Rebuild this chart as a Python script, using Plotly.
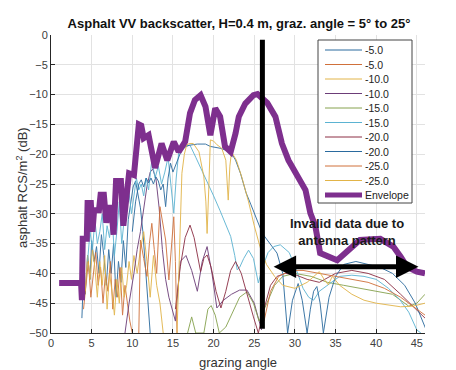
import plotly.graph_objects as go

# ---------------- data ----------------
names = ["-5.0", "-5.0", "-10.0", "-10.0", "-15.0", "-15.0", "-20.0", "-20.0", "-25.0", "-25.0"]
colors = ["#2a6a9e", "#d0703a", "#e2b448", "#6c3d78", "#86a24e", "#5bb3d2", "#8c2e44", "#2a6a9e", "#d0703a", "#e2b448"]
env_color = "#7E2F8E"

s1_x = [3.8, 4.0, 4.2, 4.5, 4.8, 5.0, 5.3, 5.6, 5.9, 6.2, 6.5, 6.8, 7.1, 7.4, 7.7, 8.0, 8.3, 8.6, 8.9, 9.2, 9.5, 9.8, 10.1, 10.4, 10.7, 11.0, 11.3, 11.6, 11.9, 12.2]
s1_y = [-47.5, -40, -43.5, -37, -41, -34.5, -38, -35.5, -40, -33.5, -37, -42, -36, -40, -35, -44, -38, -41.5, -34.5, -39, -31, -28, -25.5, -24.5, -26.5, -29, -33, -39, -45, -50]

s2_x = [4.0, 4.3, 4.6, 4.9, 5.2, 5.5, 5.8, 6.1, 6.4, 6.7, 7.0, 7.3, 7.6, 7.9, 8.2, 8.5, 8.8, 9.1, 9.4, 9.7, 10.0]
s2_y = [-46, -42, -38, -44, -40, -36.5, -42, -39, -45, -40, -43, -38, -46, -41, -44, -39, -47, -42, -45, -48, -50]

s3_x = [4.2, 4.5, 4.8, 5.1, 5.4, 5.7, 6.0, 6.3, 6.6, 6.9, 7.2, 7.5, 7.8, 8.1, 8.4, 8.7, 9.0, 9.3, 9.6, 9.9, 10.2, 10.6, 11.0, 11.4, 11.8, 12.2, 12.6, 13.0, 13.4, 13.8]
s3_y = [-43, -37, -41, -36, -39, -44, -38, -42, -37, -46, -40, -43, -47, -41, -45, -39, -44, -42, -38, -41, -37, -40, -36, -33, -38, -44, -37, -42, -45, -50]

s4_x = [9.1, 9.6, 10.2, 10.6, 11.0, 11.4, 11.8, 12.2, 12.5, 12.9, 13.3, 13.7, 14.1, 14.5, 14.9, 15.3, 15.9, 16.6, 17.3, 18.0, 18.6, 19.2, 19.8, 20.4, 21.2, 22.2, 23.2, 24.1, 25.0, 25.9]
s4_y = [-50, -45, -40, -36, -33, -29, -25.4, -23, -22.5, -24, -29, -36, -41, -44, -46, -48, -38, -37, -39.5, -43, -38, -35.5, -40, -45.8, -44.5, -43.5, -42.8, -42.8, -45, -49.5]

s5_x = [16.8, 17.3, 17.8, 18.3, 18.8, 19.3, 19.7, 20.2, 20.7, 21.5, 22.3, 23.2, 24.1, 24.9, 25.6, 26.5, 27.5, 28.5, 30, 32, 34, 36, 38, 40, 42, 44, 45, 46]
s5_y = [-50, -47.3, -50, -50, -50, -46, -45.4, -47, -50, -49, -46.5, -44, -43.1, -45, -48, -45, -42, -40.5, -40, -40.5, -41.5, -42, -42.5, -43, -43.5, -45.5, -45, -43.5]

s6_x = [4.5, 4.8, 5.1, 5.4, 5.7, 6.0, 6.3, 6.6, 6.9, 7.2, 7.5, 7.8, 8.1, 8.4, 8.7, 9.0, 9.3, 9.6, 9.9, 10.2, 10.5, 10.8, 11.1, 11.4, 11.7, 12.0, 12.4, 12.8, 13.2, 13.6, 14.0, 14.4, 14.8, 15.1, 15.4, 15.7, 16.1, 16.6, 17.1, 17.8, 18.5, 19.2, 20.0, 20.8, 21.5, 22.1, 22.6, 22.9, 23.2, 23.7, 24.3, 24.9, 25.5, 26.0, 26.7, 27.4, 28.2, 29.3, 30.2, 31.0, 31.7, 32.3, 33.0, 34.0, 35.5, 37.0, 38.5, 40.0, 41.5, 42.9, 44.0, 45.0, 45.5]
s6_y = [-38, -33, -36, -31, -35, -33, -30, -36, -32, -34, -30, -37, -33, -28, -35, -31, -29, -26.5, -30, -27, -24, -26, -25, -27, -24, -26, -21, -24, -22, -25, -23, -20.5, -26, -29.9, -24, -19.8, -18.7, -18.6, -18.5, -20.5, -22.5, -24.5, -27, -29.5, -31.8, -33.8, -37, -39.4, -39, -37.5, -36.1, -37.5, -41.6, -39, -36.5, -35.5, -35.2, -36.5, -39.5, -42.5, -44, -44.5, -43, -42, -40.5, -40.3, -40.5, -41, -42.5, -44.4, -46.5, -49.5, -50]

s7_x = [15.3, 15.9, 16.5, 17.1, 17.6, 18.4, 18.8, 19.2, 19.7, 20.3, 20.9, 21.5, 22.1, 22.7, 23.4, 24.1, 24.9, 25.5, 26.2, 27.0, 27.8, 28.8, 30.0, 31.5, 33, 35, 37, 39, 41, 43, 44.5, 46]
s7_y = [-46, -38.9, -34, -31.9, -34, -39.7, -37.5, -36.9, -39, -43, -45.8, -43, -39.5, -38.0, -40, -43.5, -47.3, -50, -46, -42, -40.5, -40, -40.2, -41, -41.5, -40, -39.5, -40, -41, -43.5, -45.5, -47.5]

s8_x = [10.0, 10.4, 10.8, 11.1, 11.4, 11.7, 12.0, 12.3, 12.6, 12.9, 13.2, 13.5, 13.8, 14.1, 14.4, 14.7, 15.0, 15.3, 15.6, 16.0, 16.5, 17.0, 18.0, 19.0, 19.6, 20.8, 22.1, 22.7, 23.3, 24.0, 24.6, 26.0, 26.6, 27.8, 28.5, 29.1, 29.7, 30.4, 30.9, 31.5, 31.9, 32.3, 32.7, 33.1, 33.5, 34.2, 35, 36, 37.5, 39, 40.5, 42, 43.5, 44.8, 45.8, 46.3]
s8_y = [-33, -28, -25, -24.3, -25.5, -24, -24.8, -24, -25, -23.8, -24.5, -26, -25, -28.8, -24, -21.5, -23, -22, -21, -19.5, -18.8, -18.5, -18.3, -18.3, -18.7, -19, -19.6, -21, -23.2, -26.5, -28.5, -33.3, -34.4, -36.6, -40, -50, -44.5, -41.7, -44.5, -50, -46, -43, -42.2, -45, -50, -44, -40.5, -38.5, -38, -38.5, -39, -40, -42, -45, -48.5, -50]

s9_x = [10.8, 11.0, 11.4, 11.8, 12.1, 12.4, 12.7, 13.0, 13.4, 13.7, 14.1, 14.5, 14.8, 15.1, 15.3, 15.5, None, 26.2, 27.0, 28.0, 29.5, 31, 33, 35, 37, 39, 41, 43, 44.5, 46]
s9_y = [-50, -34.4, -37.5, -40.5, -35, -31.6, -36, -40, -28.8, -31, -34.4, -41.1, -35, -30.5, -38, -50, None, -48, -43, -40.5, -39.5, -39.5, -40, -40.5, -41, -41.5, -42.5, -44, -45.5, -47]

s10_x = [15.5, 15.8, 16.1, 16.4, 16.7, 17.1, 17.5, 18.2, 18.8, 19.05, 19.2, 19.4, 19.6, 20.0, 20.4, 21.0, 21.5, 21.8, 22.0, 22.2, 22.8, 23.5, 24.3, 25.0, 25.7, 26.5, 27.5, 28.5, 30, 31.5, 33.0, 33.6, 34.1, 34.6, 35.5, 37, 38.5, 40, 41.5, 43, 44.5, 46]
s10_y = [-50, -36, -23.2, -20, -18.4, -18.2, -18.2, -19.6, -23.8, -28, -33.3, -26, -17.6, -17.8, -18.4, -19, -21, -27.7, -22, -19.6, -21, -24, -28, -32, -35.5, -38.5, -40.5, -42, -42.5, -41.5, -39.7, -41, -41.9, -40.5, -42, -43.5, -44.5, -45, -45.3, -45.6, -45.5, -45]

env_x = [1.0, 3.7, 3.8, 3.9, 4.4, 4.5, 4.9, 5.1, 5.3, 5.9, 6.1, 6.5, 6.8, 7.1, 7.4, 7.7, 8.0, 8.6, 8.9, 9.3, 9.6, 10.2, 10.5, 10.8, 11.1, 11.4, 12.0, 12.8, 13.6, 14.3, 15.1, 15.7, 16.5, 17.1, 17.7, 18.4, 19.0, 19.6, 20.2, 20.8, 21.4, 22.1, 22.7, 23.1, 23.9, 24.9, 25.4, 25.7, 26.6, 27.6, 28.4, 29.2, 30.5, 31.3, 31.9, 32.5, 32.9, 33.1, 35.2, 36.8, 38.0, 40.5, 42.1, 43.0, 43.8, 45.0, 46.0]
env_y = [-41.6, -41.6, -44.5, -34.2, -34.2, -28.2, -28.2, -33, -29.4, -29.4, -26.8, -26.8, -31.5, -29, -29, -33.5, -24.5, -24.5, -32, -26, -23.2, -23.5, -20, -15, -15.2, -17.3, -16.8, -22.3, -18.2, -21, -17.9, -19.6, -17.9, -13.1, -10.9, -10.1, -12.0, -16.8, -12.3, -13.7, -18.7, -19.6, -16.5, -13.7, -11.5, -10.1, -9.9, -10.3, -11.4, -13.7, -18.2, -21, -24.3, -26, -29.9, -32, -35, -36.6, -37.8, -36, -34.4, -34.2, -35.5, -37.2, -38.9, -39.7, -40]

series_x = [s1_x, s2_x, s3_x, s4_x, s5_x, s6_x, s7_x, s8_x, s9_x, s10_x]
series_y = [s1_y, s2_y, s3_y, s4_y, s5_y, s6_y, s7_y, s8_y, s9_y, s10_y]

x_ticks = [0, 5, 10, 15, 20, 25, 30, 35, 40, 45]
y_ticks = [0, -5, -10, -15, -20, -25, -30, -35, -40, -45, -50]

cutoff_angle = 26.0
arrow_y = -38.9
arrow_x0, arrow_x1 = 27.2, 45.2

# ---------------- figure ----------------
# the page body has an 8px margin, so the figure is placed at (8, 8) in the window
OFF = 8
W, H = 456 - OFF, 370 - OFF
ML, MR, MT, MB = 51 - OFF, 31, 35 - OFF, 37
PW, PH = W - ML - MR, H - MT - MB

def px2paper_x(px):          # window pixel -> paper coordinate
    return (px - OFF - ML) / PW
def px2paper_y(py):
    return (H - MB - (py - OFF)) / PH

fig = go.Figure()
for xs, ys, nm, c in zip(series_x, series_y, names, colors):
    fig.add_trace(go.Scatter(x=xs, y=ys, name=nm, mode="lines",
                             line=dict(color=c, width=1), opacity=0.9,
                             connectgaps=False, showlegend=False))
fig.add_trace(go.Scatter(x=env_x, y=env_y, name="Envelope", mode="lines",
                         line=dict(color=env_color, width=6), showlegend=False))

font_main = "Arial, Liberation Sans, sans-serif"

# vertical cutoff line
fig.add_shape(type="line", xref="x", yref="y", x0=cutoff_angle, x1=cutoff_angle,
              y0=-0.8, y1=-49.3, line=dict(color="black", width=5))

# double arrow
fig.add_annotation(x=arrow_x1, y=arrow_y, ax=arrow_x0, ay=arrow_y, xref="x", yref="y",
                   axref="x", ayref="y", text="", showarrow=True,
                   arrowhead=2, startarrowhead=2, arrowside="end+start",
                   arrowsize=0.9, startarrowsize=0.9, arrowwidth=5, arrowcolor="black")

fig.add_annotation(x=36.4, y=-33.0, xref="x", yref="y",
                   text="<b>Invalid data due to<br>antenna pattern</b>", showarrow=False,
                   font=dict(family=font_main, size=13, color="#1a1a1a"), align="center")

# manual legend (MATLAB style compact box)
L, R, T, B = 318, 412, 40, 203
fig.add_shape(type="rect", xref="paper", yref="paper",
              x0=px2paper_x(L), x1=px2paper_x(R), y0=px2paper_y(B), y1=px2paper_y(T),
              line=dict(color="#444444", width=1), fillcolor="white", layer="above")
leg_names = names + ["Envelope"]
leg_colors = colors + [env_color]
for i, (nm, c) in enumerate(zip(leg_names, leg_colors)):
    py = 50 + 14.5 * i
    w = 5 if nm == "Envelope" else 1
    fig.add_shape(type="line", xref="paper", yref="paper",
                  x0=px2paper_x(325), x1=px2paper_x(362), y0=px2paper_y(py), y1=px2paper_y(py),
                  line=dict(color=c, width=w), layer="above")
    fig.add_annotation(x=px2paper_x(363), y=px2paper_y(py), xref="paper", yref="paper",
                       text=nm, showarrow=False, xanchor="left", yanchor="middle",
                       font=dict(family=font_main, size=10.5, color="#222222"))

# axis titles
fig.add_annotation(x=px2paper_x(238), y=px2paper_y(362), xref="paper", yref="paper",
                   text="grazing angle", showarrow=False, xanchor="center", yanchor="middle",
                   font=dict(family=font_main, size=13, color="#333333"))
fig.add_annotation(x=px2paper_x(22), y=px2paper_y(188), xref="paper", yref="paper",
                   text="asphalt RCS/m<sup>2</sup> (dB)", showarrow=False, textangle=-90,
                   xanchor="center", yanchor="middle",
                   font=dict(family=font_main, size=13, color="#333333"))

fig.update_layout(
    width=W, height=H,
    margin=dict(l=ML, r=MR, t=MT, b=MB, autoexpand=False),
    paper_bgcolor="white", plot_bgcolor="white",
    showlegend=False,
    title=dict(text="<b>Asphalt VV backscatter, H=0.4 m, graz. angle = 5° to 25°</b>",
               x=px2paper_x(239), xref="paper", xanchor="center",
               y=1 - (23 - OFF) / H, yref="container", yanchor="middle",
               font=dict(family=font_main, size=13, color="#111111")),
    font=dict(family=font_main, color="#404040"),
)
fig.update_xaxes(range=[0, 46], tickvals=x_ticks, showgrid=True, gridcolor="#e2e2e2",
                 showline=True, linecolor="#262626", linewidth=1, ticks="inside", ticklen=4,
                 tickcolor="#262626", zeroline=False, automargin=False,
                 tickfont=dict(size=11, color="#404040"))
fig.update_yaxes(range=[-50, 0], tickvals=y_ticks, showgrid=True, gridcolor="#e2e2e2",
                 showline=True, linecolor="#262626", linewidth=1, ticks="inside", ticklen=4,
                 tickcolor="#262626", zeroline=False, automargin=False,
                 tickfont=dict(size=11, color="#404040"))

fig.write_html("out.html")
